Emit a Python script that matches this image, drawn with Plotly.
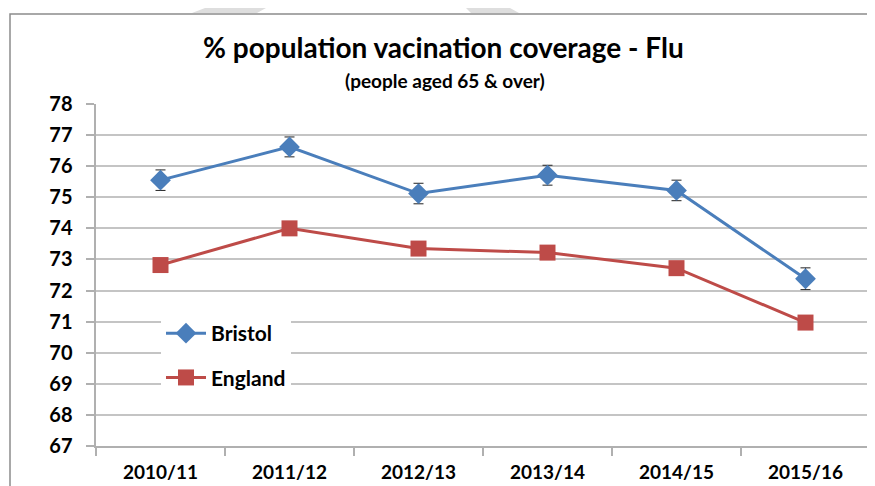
import plotly.graph_objects as go

seasons = ["2010/11", "2011/12", "2012/13", "2013/14", "2014/15", "2015/16"]
bristol = [75.55, 76.62, 75.12, 75.71, 75.22, 72.38]
bristol_err = [0.33, 0.32, 0.33, 0.32, 0.33, 0.35]
england = [72.82, 74.00, 73.35, 73.22, 72.72, 70.97]

# the page body has an 8px margin, so the figure is drawn 8px in from the window edge
OFF = 8
W, H = 875 - OFF, 486 - OFF
# plot area in window pixels: x 96..870, y 104..446
L_, R_, T_, B_ = 96, 870, 104, 446
ML, MR, MT, MB = L_ - OFF, (875 - R_), T_ - OFF, (486 - B_)
PW, PH = W - ML - MR, H - MT - MB
FONT = "Lato"
BLUE = "#4a7ebb"
RED = "#be4b48"


def px(x):
    return (x - OFF - ML) / PW


def py(y):
    return (H - MB - (y - OFF)) / PH


def path(points):
    return "M " + " L ".join(f"{px(a):.5f},{py(b):.5f}" for a, b in points) + " Z"


fig = go.Figure()
fig.add_trace(go.Scatter(
    x=seasons, y=bristol, name="Bristol", mode="lines+markers",
    line=dict(color=BLUE, width=3), legendgroup="a",
    marker=dict(symbol="diamond", size=16, color=BLUE),
    error_y=dict(type="data", array=bristol_err, color="#222222", thickness=1, width=5),
))
fig.add_trace(go.Scatter(
    x=seasons, y=england, name="England", mode="lines+markers",
    line=dict(color=RED, width=3), legendgroup="b",
    marker=dict(symbol="square", size=16, color=RED),
))

shapes = [
    dict(type="rect", xref="paper", yref="paper", x0=px(10), y0=py(14), x1=px(900), y1=py(520),
         line=dict(color="#8c8c8c", width=1.5), fillcolor="rgba(0,0,0,0)", layer="below"),
    dict(type="path", xref="paper", yref="paper", path=path([(205, 8), (266, 8), (257, 13), (192, 13)]),
         fillcolor="#dedede", line=dict(width=0), layer="below"),
    dict(type="path", xref="paper", yref="paper", path=path([(466, 8), (510, 8), (519, 13), (471, 13)]),
         fillcolor="#dedede", line=dict(width=0), layer="below"),
]

annotations = [
    dict(text="<b>% population vacination coverage - Flu</b>", xref="paper", yref="paper",
         x=px(443), y=py(47), xanchor="center", yanchor="middle", showarrow=False,
         font=dict(family=FONT, size=28, color="#000000")),
    dict(text="<b>(people aged 65 & over)</b>", xref="paper", yref="paper",
         x=px(445), y=py(80), xanchor="center", yanchor="middle", showarrow=False,
         font=dict(family=FONT, size=19, color="#000000")),
]

fig.update_layout(
    width=W, height=H,
    margin=dict(l=ML, r=MR, t=MT, b=MB, pad=0, autoexpand=False),
    paper_bgcolor="white", plot_bgcolor="white",
    font=dict(family=FONT, size=17, color="#000000"),
    shapes=shapes, annotations=annotations,
    showlegend=True,
    legend=dict(x=px(161), y=py(313), xanchor="left", yanchor="top",
                bgcolor="white", tracegroupgap=14, traceorder="grouped",
                font=dict(family=FONT, size=21, color="#000000", weight="bold"),
                itemwidth=40),
    xaxis=dict(type="category", range=[-0.5, 5.5], showgrid=False, showline=True,
               linecolor="#b0b0b0", linewidth=1.5, ticks="outside", tickson="boundaries",
               ticklen=8, tickcolor="#b0b0b0", tickwidth=1.5, ticklabelstandoff=8,
               tickfont=dict(family=FONT, size=19, weight="bold")),
    yaxis=dict(range=[67, 78], dtick=1, showgrid=True, gridcolor="#c4c4c4", gridwidth=1.5,
               showline=True, linecolor="#b0b0b0", linewidth=1.5, zeroline=False,
               ticks="outside", ticklen=8, tickcolor="#b0b0b0", tickwidth=1.5,
               ticksuffix="\u00a0\u00a0",
               tickfont=dict(family=FONT, size=20, weight="bold")),
)

fig.write_html("out.html")
